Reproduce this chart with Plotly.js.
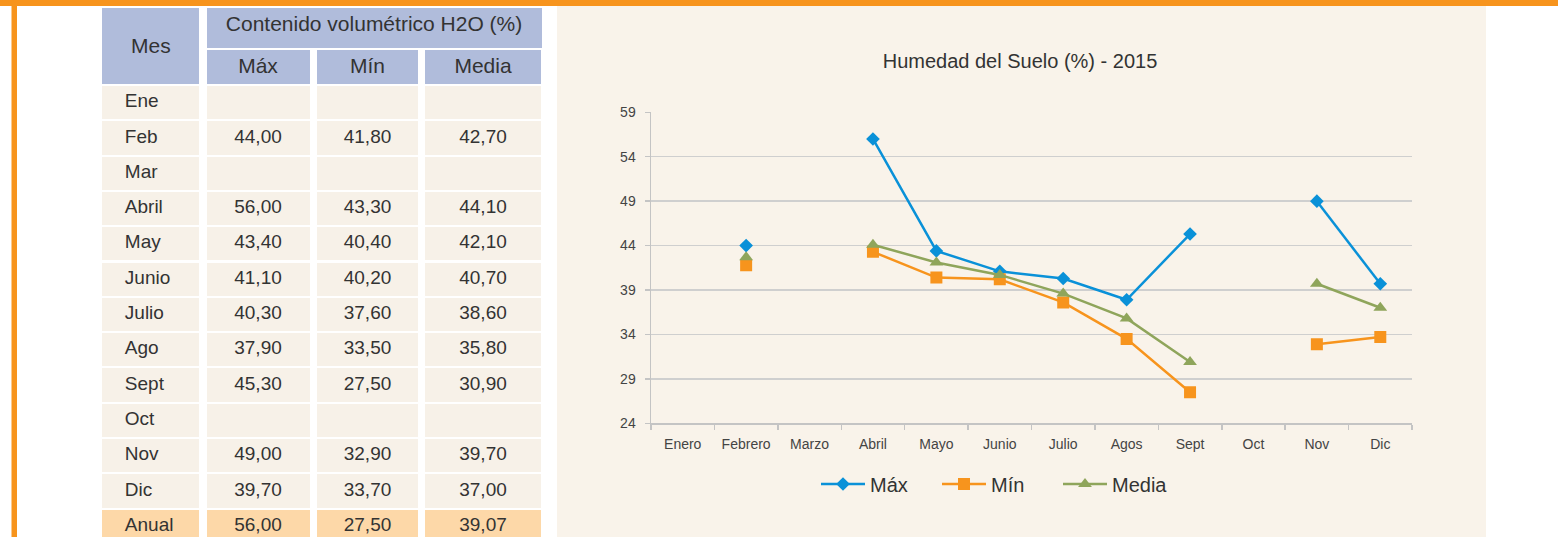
<!DOCTYPE html>
<html>
<head>
<meta charset="utf-8">
<script src="https://cdn.plot.ly/plotly-3.0.1.min.js"></script>
<style>
html,body{margin:0;padding:0;background:#fff;overflow:hidden;}
#chart{width:1558px;height:560px;}
</style>
</head>
<body>
<div id="chart"></div>
<script>
// ---- data ----
const chartMonths = ['Enero','Febrero','Marzo','Abril','Mayo','Junio','Julio','Agos','Sept','Oct','Nov','Dic'];
const tableMonths = ['Ene','Feb','Mar','Abril','May','Junio','Julio','Ago','Sept','Oct','Nov','Dic'];
const maxVals  = [null, 44.00, null, 56.00, 43.40, 41.10, 40.30, 37.90, 45.30, null, 49.00, 39.70];
const minVals  = [null, 41.80, null, 43.30, 40.40, 40.20, 37.60, 33.50, 27.50, null, 32.90, 33.70];
const meanVals = [null, 42.70, null, 44.10, 42.10, 40.70, 38.60, 35.80, 30.90, null, 39.70, 37.00];
const annualLabel = 'Anual';
const annualMax = 56.00;
const annualMin = 27.50;
const annualMean = 39.07;
const seriesNames = ['Máx', 'Mín', 'Media'];
const tableHeaderMonth = 'Mes';
const tableHeaderGroup = 'Contenido volumétrico H2O (%)';
const chartTitle = 'Humedad del Suelo (%) - 2015';

// ---- geometry helpers ----
const W = 1558, H = 560;
const px = x => x / W;
const py = y => 1 - y / H;
const FONT = 'Liberation Sans, Arial, sans-serif';
const TXT = '#333333';
const HEAD_BG = '#B0BCDB';
const BODY_BG = '#F7F1E8';
const ANNUAL_BG = '#FDD8A8';
const PANEL_BG = '#F9F3EA';

const fmt = v => (v === null || v === undefined) ? '' : v.toFixed(2).replace('.', ',');
const nRows = tableMonths.length + 1;
const rowFills = Array.from({length: nRows}, (_, i) => i === nRows - 1 ? ANNUAL_BG : BODY_BG);
const ROW_H = 35.3;
const TOP = 7, HEAD1 = 42, HEAD2 = 36;

function colTable(x0, x1, yTop, headerText, headerH, values, align, pad) {
  const cellVals = values ? values.map(v => pad + v) : null;
  return {
    type: 'table',
    domain: {x: [px(x0), px(x1)], y: [0, py(yTop)]},
    columnwidth: [1],
    header: {
      values: [headerText],
      height: headerH,
      align: 'center',
      fill: {color: HEAD_BG},
      line: {color: '#ffffff', width: 2},
      font: {family: FONT, size: 21, color: TXT}
    },
    cells: cellVals ? {
      values: [cellVals],
      height: ROW_H,
      align: align,
      fill: {color: [rowFills]},
      line: {color: '#ffffff', width: 2},
      font: {family: FONT, size: 19, color: TXT}
    } : {values: [[]], height: ROW_H}
  };
}

const nb = '\u00A0\u00A0\u00A0';
const monthCol = tableMonths.concat([annualLabel]);
const maxCol = maxVals.map(fmt).concat([fmt(annualMax)]);
const minCol = minVals.map(fmt).concat([fmt(annualMin)]);
const meanCol = meanVals.map(fmt).concat([fmt(annualMean)]);

const traces = [
  colTable(101, 200, TOP, '', HEAD1 + HEAD2, monthCol, 'left', nb),
  colTable(205.5, 543, TOP, tableHeaderGroup, HEAD1, null, 'center', ''),
  colTable(205.5, 311, TOP + HEAD1, seriesNames[0], HEAD2, maxCol, 'center', ''),
  colTable(316, 419, TOP + HEAD1, seriesNames[1], HEAD2, minCol, 'center', ''),
  colTable(424, 543, TOP + HEAD1, seriesNames[2], HEAD2, meanCol, 'center', ''),
  {
    type: 'scatter', mode: 'lines+markers', name: seriesNames[0],
    x: chartMonths, y: maxVals,
    line: {color: '#0A91D8', width: 2.5},
    marker: {symbol: 'diamond', size: 10.5, color: '#0A91D8'}
  },
  {
    type: 'scatter', mode: 'lines+markers', name: seriesNames[1],
    x: chartMonths, y: minVals,
    line: {color: '#F7941D', width: 2.5},
    marker: {symbol: 'square', size: 12, color: '#F7941D'}
  },
  {
    type: 'scatter', mode: 'lines+markers', name: seriesNames[2],
    x: chartMonths, y: meanVals,
    line: {color: '#8FA55B', width: 2.5},
    marker: {symbol: 'triangle-up', size: 12, color: '#8FA55B'}
  }
];

const layout = {
  width: W, height: H, autosize: false,
  margin: {l: 0, r: 0, t: 0, b: 0, pad: 0},
  paper_bgcolor: '#ffffff',
  plot_bgcolor: 'rgba(0,0,0,0)',
  font: {family: FONT, color: TXT},
  title: {
    text: chartTitle,
    x: px(1020), xanchor: 'center', xref: 'paper',
    y: py(61), yanchor: 'middle', yref: 'paper',
    font: {family: FONT, size: 20, color: TXT}
  },
  showlegend: true,
  legend: {
    orientation: 'h', x: px(816), xanchor: 'left', y: py(484), yanchor: 'middle',
    bgcolor: 'rgba(0,0,0,0)', font: {family: FONT, size: 20, color: TXT},
    traceorder: 'normal', entrywidth: 62, entrywidthmode: 'pixels', itemwidth: 44
  },
  annotations: [
    {text: tableHeaderMonth, xref: 'paper', yref: 'paper', x: px(150.5), y: py(45),
     xanchor: 'center', yanchor: 'middle', showarrow: false,
     font: {family: FONT, size: 21, color: TXT}}
  ],
  xaxis: {
    domain: [px(651), px(1412)],
    type: 'category',
    range: [-0.5, 11.5],
    tickson: 'boundaries',
    ticks: 'outside', ticklen: 5, tickwidth: 1.5, tickcolor: '#c4c4c4',
    showline: true, linecolor: '#c4c4c4', linewidth: 1.5,
    showgrid: false, zeroline: false,
    tickfont: {family: FONT, size: 14, color: '#444'},
    ticklabelstandoff: 7,
    fixedrange: true
  },
  yaxis: {
    domain: [py(423.3), py(112.3)],
    range: [24, 59],
    tick0: 24, dtick: 5,
    ticks: 'outside', ticklen: 5, tickwidth: 1.5, tickcolor: '#c4c4c4',
    showline: true, linecolor: '#c4c4c4', linewidth: 1.5,
    showgrid: true, gridcolor: '#cfcfcf', gridwidth: 1.5,
    zeroline: false,
    tickfont: {family: FONT, size: 14, color: '#444'},
    ticklabelstandoff: 6,
    fixedrange: true
  },
  shapes: [
    {type: 'rect', xref: 'paper', yref: 'paper', x0: px(557), x1: px(1486), y0: 0, y1: py(6),
     fillcolor: PANEL_BG, line: {width: 0}, layer: 'below'},
    {type: 'rect', xref: 'paper', yref: 'paper', x0: 0, x1: 1, y0: py(6), y1: 1,
     fillcolor: '#F7941D', line: {width: 0}, layer: 'below'},
    {type: 'rect', xref: 'paper', yref: 'paper', x0: px(11.5), x1: px(17), y0: 0, y1: 1,
     fillcolor: '#F7941D', line: {width: 0}, layer: 'below'}
  ]
};

Plotly.newPlot('chart', traces, layout, {displayModeBar: false, staticPlot: true});
</script>
</body>
</html>
